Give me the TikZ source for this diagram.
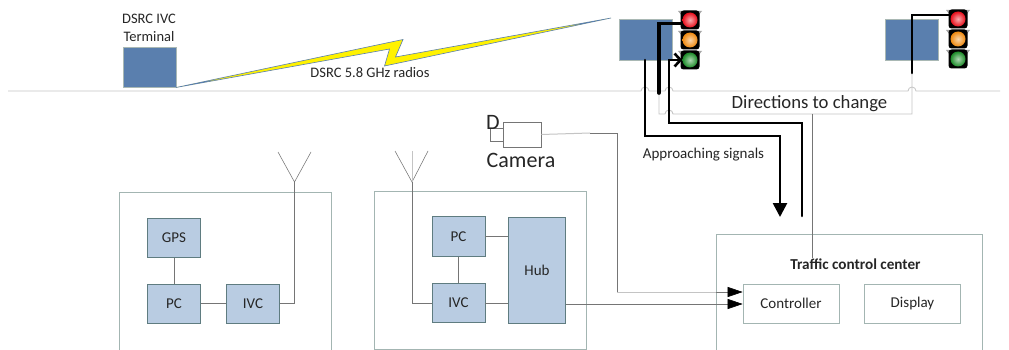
\documentclass[tikz,border=0pt]{standalone}
\usepackage{fontspec}
\setmainfont{Carlito}
\usetikzlibrary{arrows.meta}
\definecolor{stationblue}{HTML}{5A7FAE}
\definecolor{stationedge}{HTML}{A9B8B4}
\definecolor{unitblue}{HTML}{B9CCE2}
\definecolor{unitedge}{HTML}{5F7C80}
\definecolor{frameedge}{HTML}{A3B5B2}
\definecolor{wire}{HTML}{757575}
\definecolor{road}{HTML}{C4C4C4}
\definecolor{txt}{HTML}{262626}
\definecolor{lampred}{HTML}{E8101C}
\definecolor{lamporange}{HTML}{F08A10}
\definecolor{lampgreen}{HTML}{1E8C2A}
\tikzset{
  station/.style={draw=stationedge,line width=.7pt,fill=stationblue,minimum width=53pt,minimum height=40.5pt,inner sep=0pt},
  unit/.style={draw=unitedge,line width=.8pt,fill=unitblue,inner sep=0pt,text=txt,font=\fontsize{15}{16}\selectfont},
  ctrlbox/.style={draw=frameedge,line width=.7pt,fill=white,inner sep=0pt,text=txt,font=\fontsize{15}{17}\selectfont,minimum width=96pt,minimum height=39pt},
  label/.style={inner sep=0pt,text=txt,font=\fontsize{14.5}{17.5}\selectfont,align=center},
  frame/.style={draw=frameedge,line width=.7pt},
  wireline/.style={draw=wire,line width=.55pt},
  roadline/.style={draw=road,line width=.8pt},
  thickline/.style={draw=black,line width=2.6pt,line cap=round,line join=miter},
  lamphousing/.style={fill=black,rounded corners=3pt,minimum width=19pt,minimum height=19pt,inner sep=0pt},
  lamp/.style={circle,minimum size=15pt,inner sep=0pt,inner color=#1!35!white,outer color=#1},
  inarrow/.style={-{Triangle[black,length=15pt,width=10pt]}},
}
\newcommand{\lampear}[2]{%
  \fill[gray!70] (#1-12,#2-9) -- (#1+12,#2-9) -- (#1+8,#2-4) -- (#1-8,#2-4) -- cycle;}
\begin{document}
\begin{tikzpicture}[x=1pt,y=-1pt]
\useasboundingbox (0,0) rectangle (1009,350);
\fill[white] (0,0) rectangle (1009,350);

% road
\coordinate (roadL) at (8,91);
\coordinate (roadR) at (1000,91);
\draw[roadline] (roadL) -- (641,91) arc[start angle=180,end angle=0,radius=4pt]
  -- (665,91) arc[start angle=180,end angle=0,radius=4pt]
  -- (908,91) arc[start angle=180,end angle=0,radius=4pt] -- (roadR);

% stations
\node[station] (term) at (149.5,67.5) {};
\node[station] (sigA) at (645.5,40) {};
\node[station] (sigB) at (911.5,40) {};
\node[label] (termlabel) at (149,28) {DSRC IVC\\[1pt]Terminal};

% lightning
\draw[draw=stationblue,line width=.6pt,fill=yellow,line join=miter]
  (176,87.5) -- (389.5,49) -- (384.5,66) -- (611,18) -- (395.5,57) -- (403,39.5) -- cycle;
\node[label] (radios) at (370,73) {DSRC 5.8 GHz radios};

% lamps A
\foreach \n/\y/\c in {Ar/20/lampred,Ao/40/lamporange,Ag/60/lampgreen}{
  \lampear{690}{\y}
  \node[lamphousing] at (690,\y) {};
  \node[lamp=\c] (\n) at (690,\y) {};
}
% lamps B
\foreach \n/\y/\c in {Br/19/lampred,Bo/39/lamporange,Bg/59/lampgreen}{
  \lampear{958}{\y}
  \node[lamphousing] at (958,\y) {};
  \node[lamp=\c] (\n) at (958,\y) {};
}

% directions wire
\coordinate (dirA) at (659,93);
\coordinate (dirB) at (912,73);
\coordinate (dirJ) at (812,114);
\draw[road,line width=.9pt] (dirA) -- (659,114) -- (665,114) arc[start angle=180,end angle=0,radius=4pt]
  -- (912,114) -- (dirB);
\node[inner sep=0pt,text=txt,font=\fontsize{18.7}{20}\selectfont] (dirs) at (809.5,104) {Directions to change};
\node[inner sep=0pt,text=txt,font=\fontsize{15}{17}\selectfont] (appr) at (703.5,155) {Approaching signals};

% control centre
\draw[frame] (716,350) -- (716,234.5) -- (982,234.5) -- (982,350);
\node[inner sep=0pt,text=txt,font=\fontsize{15.2}{17}\selectfont\bfseries] (tcc) at (855.5,264) {Traffic control center};
\node[ctrlbox] (controller) at (791,303.5) {Controller};
\node[ctrlbox] (display) at (912.5,303.5) {Display};
\draw[wireline] (dirJ) -- (812,258);

% thick connectors
\coordinate (aS) at (645,60);
\coordinate (aE) at (780,217);
\coordinate (bS) at (659,93);
\coordinate (bE) at (802,216);
\coordinate (cS) at (669,60);
\draw[thickline,-{Triangle[length=14pt,width=14pt]}] (aS) -- (645,136) -- (780,136) -- (aE);
\draw[thickline,line width=3.6pt] (bS) -- (659,23.5) -- (681,23.5);
\draw[thickline,-{Straight Barb[length=6pt,width=13pt,line width=2.6pt]}] (bE) -- (802,123) -- (669,123) -- (cS) -- (Ag.west);
\coordinate (dS) at (912,73);
\draw[thickline] (dS) -- (912,15) -- (949,15);

% left terminal box
\draw[frame] (119.5,350) -- (119.5,192) -- (331.5,192) -- (331.5,350);
\node[unit,minimum width=52.5pt,minimum height=39pt] (gps) at (174,238) {GPS};
\node[unit,minimum width=52.5pt,minimum height=39pt] (pcL) at (174,303.5) {PC};
\node[unit,minimum width=53pt,minimum height=39pt] (ivcL) at (253,303.5) {IVC};
\draw[wireline] (gps) -- (pcL);
\draw[wireline] (pcL) -- (ivcL);
\coordinate (antL) at (294.5,182);
\coordinate (antLa) at (278,152);
\coordinate (antLb) at (311,152);
\draw[wireline] (antLa) -- (antL) -- (antLb);
\draw[wireline] (ivcL.east) -- (294.5,303.5) -- (antL);

% middle box
\draw[frame] (374.5,350) -- (374.5,191) -- (586.5,191) -- (586.5,349) -- (374.5,349);
\node[unit,minimum width=53pt,minimum height=39.5pt] (pcM) at (458.5,236.5) {PC};
\node[unit,minimum width=53pt,minimum height=39.5pt] (ivcM) at (458.5,303) {IVC};
\node[unit,minimum width=57.5pt,minimum height=106.5pt] (hub) at (537,270.5) {Hub};
\draw[wireline] (pcM) -- (ivcM);
\draw[wireline] (pcM.east) -- (pcM.east -| hub.west);
\draw[wireline] (ivcM.east) -- (ivcM.east -| hub.west);
\coordinate (antM) at (412,182);
\coordinate (antMa) at (395,151);
\coordinate (antMb) at (428,151);
\coordinate (antMc) at (412,151);
\draw[wireline] (antMa) -- (antM) -- (antMb);
\draw[road,line width=.5pt] (antMc) -- (antM);
\draw[wireline] (ivcM.west) -- (412,303) -- (antM);

% camera
\node[draw=wire,line width=.7pt,fill=white,minimum width=38pt,minimum height=25pt,inner sep=0pt] (cam) at (522,134.5) {};
\draw[wireline] (cam.west |- 0,128) -- (490.5,128) -- (490.5,141) -- (cam.west |- 0,141);
\node[inner sep=0pt,text=txt,font=\fontsize{22}{24}\selectfont] (dlabel) at (493,122) {D};
\node[inner sep=0pt,text=txt,font=\fontsize{22}{24}\selectfont] (camlabel) at (521,160.5) {Camera};

% signal wires into the controller
\draw[draw=road,line width=1pt] (cam.east) -- (590,133);
\draw[wireline] (590,133) -- (617,133) -- (617,292);
\draw[draw=road,line width=1pt] (617,292) -- (716,292);
\draw[wireline,inarrow] (716,292) -- (controller.west |- 0,292);
\draw[wireline,inarrow] (hub.east |- 0,304) -- (controller.west |- 0,304);
\end{tikzpicture}
\end{document}
